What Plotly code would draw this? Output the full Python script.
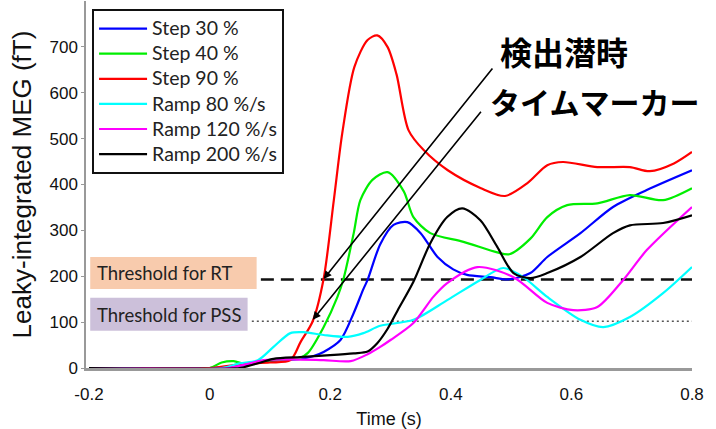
import plotly.graph_objects as go

# ---- data (time in s, Leaky-integrated MEG in fT) ----
t_step30 = [-0.2, 0.0, 0.05, 0.1, 0.15, 0.17, 0.189, 0.217, 0.239, 0.255, 0.262, 0.283, 0.305, 0.328, 0.35, 0.378, 0.404, 0.427, 0.466, 0.494, 0.532, 0.56, 0.615, 0.669, 0.725, 0.8]
v_step30 = [0, 0, 5, 15, 20, 25, 35, 61, 120, 172, 192, 270, 312, 318, 294, 242, 215, 203, 198, 193, 207, 242, 294, 351, 388, 431]

t_step40 = [-0.2, 0.0, 0.02, 0.04, 0.06, 0.09, 0.12, 0.15, 0.163, 0.189, 0.212, 0.222, 0.239, 0.25, 0.27, 0.295, 0.322, 0.338, 0.366, 0.421, 0.477, 0.497, 0.532, 0.56, 0.593, 0.643, 0.697, 0.752, 0.8]
v_step40 = [0, 0, 12, 15, 8, 15, 18, 22, 33, 89, 155, 194, 294, 366, 410, 427, 385, 329, 294, 275, 252, 248, 282, 329, 355, 359, 377, 366, 392]

t_step90 = [-0.2, 0.0, 0.05, 0.1, 0.134, 0.151, 0.171, 0.189, 0.206, 0.22, 0.24, 0.262, 0.278, 0.295, 0.31, 0.33, 0.355, 0.395, 0.45, 0.49, 0.527, 0.56, 0.586, 0.643, 0.697, 0.73, 0.77, 0.8]
v_step90 = [0, 0, 8, 12, 17, 57, 102, 194, 366, 512, 656, 715, 725, 700, 640, 518, 475, 431, 392, 375, 403, 442, 449, 438, 438, 429, 446, 471]

t_ramp80 = [-0.2, 0.02, 0.05, 0.08, 0.106, 0.134, 0.156, 0.189, 0.229, 0.255, 0.283, 0.338, 0.394, 0.449, 0.487, 0.52, 0.56, 0.615, 0.653, 0.697, 0.752, 0.8]
v_ramp80 = [0, 0, 10, 17, 46, 76, 78, 72, 68, 76, 92, 105, 148, 192, 218, 198, 155, 105, 89, 111, 163, 220]

t_ramp120 = [-0.2, 0.03, 0.06, 0.09, 0.134, 0.189, 0.234, 0.262, 0.283, 0.3, 0.338, 0.371, 0.394, 0.444, 0.504, 0.56, 0.603, 0.643, 0.686, 0.725, 0.8]
v_ramp120 = [0, 0, 8, 17, 19, 17, 15, 30, 46, 61, 98, 155, 185, 220, 198, 142, 126, 133, 192, 257, 351]

t_ramp200 = [-0.2, 0.05, 0.063, 0.085, 0.106, 0.15, 0.2, 0.239, 0.262, 0.278, 0.295, 0.312, 0.338, 0.366, 0.394, 0.419, 0.449, 0.477, 0.504, 0.532, 0.56, 0.615, 0.669, 0.697, 0.752, 0.8]
v_ramp200 = [0, 0, 4, 12, 20, 24, 28, 32, 36, 54, 85, 126, 188, 272, 329, 348, 322, 264, 207, 196, 207, 242, 294, 311, 316, 333]

series_names = ["Step 30 %", "Step 40 %", "Step 90 %", "Ramp 80 %/s", "Ramp 120 %/s", "Ramp 200 %/s"]
series_colors = ["#0000FF", "#00EE00", "#FF0000", "#00FFFF", "#FF00FF", "#000000"]
series_t = [t_step30, t_step40, t_step90, t_ramp80, t_ramp120, t_ramp200]
series_v = [v_step30, v_step40, v_step90, v_ramp80, v_ramp120, v_ramp200]

threshold_rt = 193
threshold_pss = 102
x_ticks = [-0.2, 0, 0.2, 0.4, 0.6, 0.8]
x_ticklabels = ["-0.2", "0", "0.2", "0.4", "0.6", "0.8"]
y_ticks = [0, 100, 200, 300, 400, 500, 600, 700]

fig = go.Figure()

# threshold lines
fig.add_trace(go.Scatter(x=[0.085, 0.8], y=[threshold_rt, threshold_rt], mode="lines",
                         line=dict(color="#111111", width=2.6, dash="13px,7px"),
                         showlegend=False, hoverinfo="skip"))
fig.add_trace(go.Scatter(x=[0.07, 0.8], y=[threshold_pss, threshold_pss], mode="lines",
                         line=dict(color="#555555", width=1.6, dash="2px,3px"),
                         showlegend=False, hoverinfo="skip"))

for name, col, tt, vv in zip(series_names, series_colors, series_t, series_v):
    fig.add_trace(go.Scatter(x=tt, y=vv, mode="lines",
                             name='<span style="font-size:19.5px">' + name + '</span>',
                             line=dict(color=col, width=2.2, shape="spline", smoothing=0.8)))

# threshold label boxes
fig.add_shape(type="rect", xref="x", yref="y", x0=-0.198, x1=0.078, y0=172, y1=242,
              fillcolor="#F8CBAD", line=dict(width=0), layer="below")
fig.add_shape(type="rect", xref="x", yref="y", x0=-0.198, x1=0.063, y0=81, y1=153,
              fillcolor="#CCC0DA", line=dict(width=0), layer="below")
fig.add_annotation(x=-0.19, y=207, xref="x", yref="y", text="Threshold for RT", showarrow=False,
                   xanchor="left", yanchor="middle", font=dict(family="Lato", size=18.5, color="#222222"))
fig.add_annotation(x=-0.19, y=116, xref="x", yref="y", text="Threshold for PSS", showarrow=False,
                   xanchor="left", yanchor="middle", font=dict(family="Lato", size=18.5, color="#222222"))

# arrows
fig.add_annotation(x=0.189, y=194, ax=0.471, ay=656, xref="x", yref="y", axref="x", ayref="y",
                   text="", showarrow=True, arrowhead=2, arrowsize=1, arrowwidth=1.6, arrowcolor="#000000")
fig.add_annotation(x=0.171, y=105, ax=0.452, ay=562, xref="x", yref="y", axref="x", ayref="y",
                   text="", showarrow=True, arrowhead=2, arrowsize=1, arrowwidth=1.6, arrowcolor="#000000")
fig.add_annotation(x=0.479, y=692, xref="x", yref="y", text="検出潜時", showarrow=False,
                   xanchor="left", yanchor="middle",
                   font=dict(family="Noto Sans CJK JP", size=32, color="#000000", weight="bold"))
fig.add_annotation(x=0.462, y=582, xref="x", yref="y", text="タイムマーカー", showarrow=False,
                   xanchor="left", yanchor="middle",
                   font=dict(family="Noto Sans CJK JP", size=30, color="#000000", weight="bold"))

fig.update_layout(
    width=716, height=429,
    margin=dict(l=86, r=24, t=1, b=61),
    paper_bgcolor="white", plot_bgcolor="white",
    font=dict(family="Liberation Sans, Arial", color="#111111"),
    legend=dict(x=0.01, y=0.978, xanchor="left", yanchor="top",
                bgcolor="white", bordercolor="#111111", borderwidth=2,
                font=dict(family="Lato", size=17, color="#222222"),
                itemwidth=48, tracegroupgap=0),
    xaxis=dict(range=[-0.205, 0.8], tickvals=x_ticks, ticktext=x_ticklabels,
               showgrid=False, zeroline=False, showline=True, linecolor="#999999", linewidth=2.5,
               ticks="", ticklabelstandoff=9, tickfont=dict(size=17),
               title=dict(text="Time (s)", font=dict(size=18), standoff=11)),
    yaxis=dict(range=[0, 800], tickvals=y_ticks,
               showgrid=False, zeroline=False, showline=True, linecolor="#999999", linewidth=1.5,
               ticks="outside", ticklen=3, tickcolor="#999999", tickfont=dict(size=17),
               title=dict(text="Leaky-integrated MEG (fT)", font=dict(size=26), standoff=10)),
)

fig.write_html("out.html", config={"displayModeBar": False},
               post_script="document.body.style.margin='0';document.body.style.padding='0';")
